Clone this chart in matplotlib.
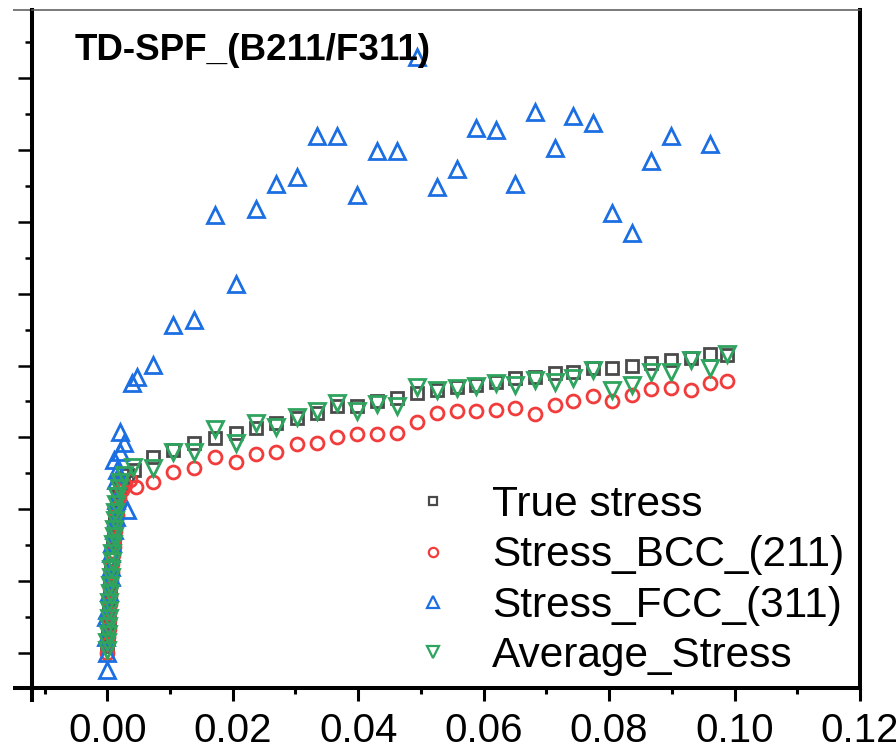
import matplotlib
matplotlib.use("Agg")
import matplotlib.pyplot as plt
from matplotlib.ticker import MultipleLocator, FormatStrFormatter
from matplotlib.lines import Line2D

plt.rcParams["font.family"] = ["Liberation Sans", "DejaVu Sans"]

# --- data (strain, stress) ---
true_strain = [0.0000, 0.0001, 0.0001, 0.0002, 0.0002, 0.0003, 0.0004, 0.0004,
               0.0005, 0.0006, 0.0006, 0.0007, 0.0008, 0.0009, 0.0010, 0.0011,
               0.0012, 0.0013, 0.0015, 0.0017, 0.0020, 0.0025, 0.0031, 0.0043,
               0.00725, 0.01043, 0.01377, 0.01712, 0.02046, 0.02365, 0.02683,
               0.03017, 0.03336, 0.03670, 0.03989, 0.04307, 0.04626, 0.04944,
               0.05263, 0.05581, 0.05884, 0.06202, 0.06505, 0.06823, 0.07142,
               0.07428, 0.07747, 0.08050, 0.08368, 0.08670, 0.08989, 0.09307,
               0.09610, 0.09881]
true_stress = [110, 120, 131, 142, 153, 164, 175, 186,
               197, 208, 219, 230, 241, 252, 263, 274,
               285, 296, 307, 318, 329, 338, 347, 355,
               372, 383, 392, 399, 406, 413, 420,
               427, 434, 443, 443, 450, 455, 462,
               466, 470, 473, 477, 482, 484, 489,
               491, 496, 497, 500, 504, 507, 511,
               516, 515]

bcc_strain = [0.0000, 0.0000, 0.0001, 0.0002, 0.0002, 0.0003, 0.0004, 0.0005,
              0.0005, 0.0006, 0.0007, 0.0008, 0.0009, 0.0010, 0.0011, 0.0012,
              0.0014, 0.0015, 0.0017, 0.0019, 0.0023, 0.0029, 0.0037, 0.0045,
              0.00725, 0.01043, 0.01377, 0.01712, 0.02046, 0.02365, 0.02683,
              0.03017, 0.03336, 0.03670, 0.03989, 0.04307, 0.04626, 0.04944,
              0.05263, 0.05581, 0.05884, 0.06202, 0.06505, 0.06823, 0.07142,
              0.07428, 0.07747, 0.08050, 0.08368, 0.08670, 0.08989, 0.09307,
              0.09610, 0.09881]
bcc_stress = [100, 112, 122, 133, 145, 156, 168, 179,
              190, 202, 213, 224, 236, 247, 258, 270,
              281, 292, 304, 315, 326, 333, 341, 331,
              338, 352, 358, 372, 365, 377, 379,
              391, 392, 401, 404, 404, 406, 422,
              434, 437, 437, 438, 441, 433, 445,
              451, 458, 451, 459, 468, 469, 466,
              475, 479]

fcc_strain = [0.0000, 0.0000, -0.0002, -0.0002, 0.0000, 0.0003, 0.0006, 0.0006,
              0.0006, 0.0008, 0.0011, 0.0014, 0.0014, 0.0032, 0.0014, 0.0016,
              0.0011, 0.0021, 0.0027, 0.0021, 0.0039, 0.0047,
              0.00725, 0.01043, 0.01377, 0.01712, 0.02046, 0.02365, 0.02683,
              0.03017, 0.03336, 0.03670, 0.03989, 0.04307, 0.04626, 0.04944,
              0.05263, 0.05581, 0.05884, 0.06202, 0.06505, 0.06823, 0.07142,
              0.07428, 0.07747, 0.08050, 0.08368, 0.08670, 0.08989, 0.09610]
fcc_stress = [76, 100, 122, 150, 160, 184, 206, 220,
              239, 253, 271, 289, 313, 299, 341, 355,
              369, 379, 392, 408, 476, 484,
              501, 557, 564, 709, 613, 718, 753,
              762, 819, 819, 737, 798, 799, 929,
              749, 773, 831, 828, 753, 853, 803,
              847, 838, 713, 684, 785, 819, 809]

avg_strain = [0.0000, 0.0000, 0.0001, 0.0001, 0.0002, 0.0003, 0.0003, 0.0004,
              0.0005, 0.0006, 0.0006, 0.0007, 0.0008, 0.0009, 0.0010, 0.0011,
              0.0012, 0.0013, 0.0014, 0.0016, 0.0018, 0.0021, 0.0027, 0.0041,
              0.00725, 0.01043, 0.01377, 0.01712, 0.02046, 0.02365, 0.02683,
              0.03017, 0.03336, 0.03670, 0.03989, 0.04307, 0.04626, 0.04944,
              0.05263, 0.05581, 0.05884, 0.06202, 0.06505, 0.06823, 0.07142,
              0.07428, 0.07747, 0.08050, 0.08368, 0.08670, 0.08989, 0.09307,
              0.09610, 0.09881]
avg_stress = [104, 115, 126, 138, 149, 160, 171, 183,
              194, 205, 217, 228, 239, 251, 262, 273,
              285, 296, 307, 318, 330, 338, 348, 359,
              358, 379, 380, 411, 392, 420, 415,
              429, 436, 448, 436, 447, 443, 470,
              466, 469, 472, 476, 473, 480, 477,
              483, 494, 466, 473, 491, 491, 507,
              497, 516]

labels = ["True stress", "Stress_BCC_(211)", "Stress_FCC_(311)", "Average_Stress"]
colors = ["#4a4a4a", "#f23b3b", "#1c6fe3", "#2ea45e"]
markers = ["s", "o", "^", "v"]
sizes = [8.3, 9.3, 11.5, 11.5]

fig = plt.figure(figsize=(8.96, 7.5), dpi=100)
ax = fig.add_axes([32 / 896, 62 / 750, 828 / 896, 678 / 750])

series = [(true_strain, true_stress), (bcc_strain, bcc_stress),
          (fcc_strain, fcc_stress), (avg_strain, avg_stress)]
for (xs, ys), c, m, s in zip(series, colors, markers, sizes):
    ax.plot(xs, ys, linestyle="none", marker=m, markersize=s,
            markerfacecolor="none", markeredgecolor=c, markeredgewidth=2.0)

ax.set_xlim(-0.012, 0.12)
ax.set_ylim(51, 995)

ax.xaxis.set_major_locator(MultipleLocator(0.02))
ax.xaxis.set_minor_locator(MultipleLocator(0.01))
ax.xaxis.set_major_formatter(FormatStrFormatter("%.2f"))
ax.yaxis.set_major_locator(MultipleLocator(100))
ax.yaxis.set_minor_locator(MultipleLocator(50))

ax.tick_params(axis="x", which="major", direction="out", length=9, width=2.2,
               labelsize=29, pad=8)
ax.tick_params(axis="x", which="minor", direction="out", length=4.5, width=2.2)
ax.tick_params(axis="y", which="major", direction="out", length=10, width=1.8,
               labelleft=False)
ax.tick_params(axis="y", which="minor", direction="out", length=5, width=1.8)

for side in ["left", "bottom", "right"]:
    ax.spines[side].set_linewidth(2.9)
    ax.spines[side].set_color("black")
ax.spines["top"].set_linewidth(1.1)
ax.spines["top"].set_color("#555555")

# axis line extensions as in the original frame
ext = (13 - 32) / 828
ax.add_line(Line2D([ext, 0], [0, 0], transform=ax.transAxes, color="black",
                   lw=2.9, clip_on=False, solid_capstyle="butt"))
ax.add_line(Line2D([ext, 0], [1, 1], transform=ax.transAxes, color="#555555",
                   lw=1.1, clip_on=False, solid_capstyle="butt"))
ax.add_line(Line2D([0, 0], [-14 / 678, 0], transform=ax.transAxes, color="black",
                   lw=2.9, clip_on=False, solid_capstyle="butt"))

ax.text(0.052, 0.941, "TD-SPF_(B211/F311)", transform=ax.transAxes,
        fontsize=26.5, fontweight="bold", va="center", ha="left")

handles = [Line2D([], [], linestyle="none", marker=m, markersize=s * 0.72,
                  markerfacecolor="none", markeredgecolor=c, markeredgewidth=1.6)
           for c, m, s in zip(colors, markers, sizes)]
ax.legend(handles, labels, loc="lower left",
          bbox_to_anchor=((420 - 32) / 828, 0.018), frameon=False,
          fontsize=30.5, handlelength=0.6, handletextpad=1.1,
          labelspacing=0.24, borderpad=0, borderaxespad=0)

fig.savefig("out.png", dpi=100)
